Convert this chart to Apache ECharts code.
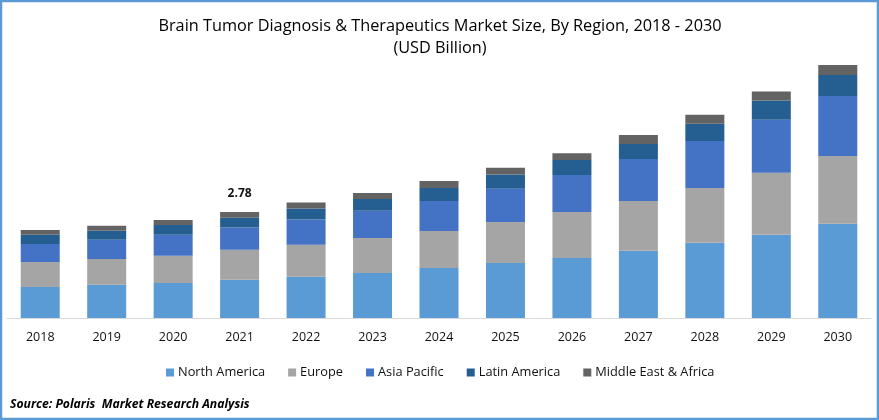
<!DOCTYPE html>
<html>
<head>
<meta charset="utf-8">
<style>html,body{margin:0;padding:0;background:#fff}#c{width:879px;height:420px}</style>
<script src="https://cdn.jsdelivr.net/npm/echarts@6/dist/echarts.min.js"></script>
</head>
<body>
<div id="c"></div>
<script>
const years = ['2018','2019','2020','2021','2022','2023','2024','2025','2026','2027','2028','2029','2030'];
const northAmerica = [0.81,0.87,0.92,1.00,1.08,1.18,1.31,1.44,1.57,1.76,1.97,2.18,2.47];
const europe       = [0.66,0.68,0.71,0.79,0.84,0.92,0.97,1.08,1.21,1.31,1.44,1.63,1.78];
const asiaPacific  = [0.47,0.50,0.55,0.58,0.66,0.71,0.79,0.87,0.97,1.10,1.23,1.39,1.57];
const latinAmerica = [0.24,0.24,0.26,0.26,0.29,0.31,0.34,0.37,0.39,0.39,0.45,0.50,0.55];
const middleEast   = [0.13,0.13,0.13,0.15,0.16,0.16,0.18,0.18,0.18,0.24,0.24,0.24,0.26];
const labelYear = '2021';
const labelText = '2.78';
const titleLines = 'Brain Tumor Diagnosis & Therapeutics Market Size, By Region, 2018 - 2030\n(USD Billion)';
const sourceText = 'Source: Polaris  Market Research Analysis';
const font = 'Open Sans';

const defs = [
  ['North America', northAmerica, '#5b9bd5'],
  ['Europe', europe, '#a5a5a5'],
  ['Asia Pacific', asiaPacific, '#4472c4'],
  ['Latin America', latinAmerica, '#255e91'],
  ['Middle East & Africa', middleEast, '#636363']
];

const chart = echarts.init(document.getElementById('c'), null, {renderer:'canvas'});
chart.setOption({
  animation:false,
  backgroundColor:'#fff',
  textStyle:{fontFamily:font},
  title:{
    text:titleLines, top:10, left:435, textAlign:'center',
    textStyle:{fontFamily:font,fontWeight:'normal',fontSize:16.3,color:'#000',lineHeight:22}
  },
  grid:{left:7,right:8,top:51,bottom:102,containLabel:false},
  legend:{
    left:161, top:361, itemWidth:8, itemHeight:8, itemGap:23, icon:'rect',
    textStyle:{fontFamily:font,fontSize:12.8,color:'#111',padding:[0,0,0,-1]},
    data:defs.map(d=>d[0])
  },
  xAxis:{
    type:'category', data:years,
    axisLine:{lineStyle:{color:'#d9d9d9',width:1}},
    axisTick:{show:false},
    axisLabel:{color:'#111',fontSize:12.5,fontFamily:font,margin:13}
  },
  yAxis:{type:'value',min:0,max:7,show:false,splitLine:{show:false}},
  series:defs.map((d,i)=>({
    name:d[0], type:'bar', stack:'t', barWidth:39,
    itemStyle:{color:d[2]},
    data:d[1].map((v,j)=>{
      if(i===defs.length-1 && years[j]===labelYear){
        return {value:v,label:{show:true,position:'top',distance:12,formatter:labelText,
          fontFamily:font,fontWeight:'bold',fontSize:12,color:'#111'}};
      }
      return v;
    })
  })),
  graphic:[
    {type:'rect',shape:{x:1,y:1,width:877,height:418},silent:true,z:100,
     style:{fill:'none',stroke:'#5b9bd5',lineWidth:2.5}},
    {type:'text',left:10,top:399,z:100,
     style:{text:sourceText,fontFamily:font,fontWeight:'bold',fontStyle:'italic',fontSize:12.2,fill:'#000'}}
  ]
});
</script>
</body>
</html>
